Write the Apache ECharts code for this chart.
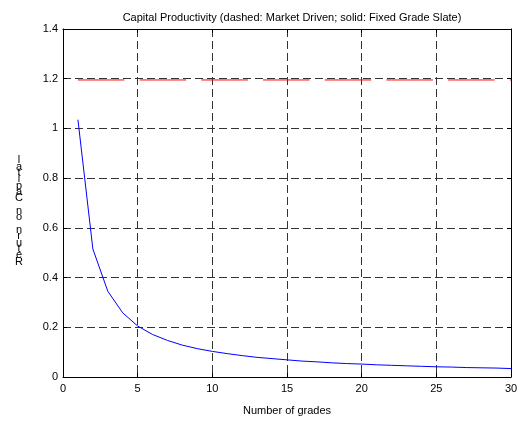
<!DOCTYPE html>
<html>
<head>
<meta charset="utf-8">
<script src="https://cdn.jsdelivr.net/npm/echarts@6/dist/echarts.min.js"></script>
<style>html,body{margin:0;padding:0;background:#fff}#c{width:522px;height:421px}</style>
</head>
<body>
<div id="c"></div>
<script>
var titleText = 'Capital Productivity (dashed: Market Driven; solid: Fixed Grade Slate)';
var xLabel = 'Number of grades';
var yLabel = 'Return on Capital';
var grades = [1,2,3,4,5,6,7,8,9,10,11,12,13,14,15,16,17,18,19,20,21,22,23,24,25,26,27,28,29,30];
var fixedSlate = [1.035,0.515,0.345,0.258,0.205,0.171,0.147,0.128,0.114,0.103,0.094,0.086,0.079,0.074,0.069,0.064,0.061,0.057,0.054,0.052,0.049,0.047,0.045,0.043,0.041,0.040,0.038,0.037,0.036,0.034];
var marketDriven = [1.195,1.195,1.195,1.195,1.195,1.195,1.195,1.195,1.195,1.195,1.195,1.195,1.195,1.195,1.195,1.195,1.195,1.195,1.195,1.195,1.195,1.195,1.195,1.195,1.195,1.195,1.195,1.195,1.195,1.195];

var font = 'Liberation Sans, Arial, sans-serif';
var chart = echarts.init(document.getElementById('c'));
function pairs(xs, ys){ return xs.map(function(x,i){ return [x, ys[i]]; }); }
var gridDash = {show:true, lineStyle:{color:'#333', width:1, type:[8,4]}};
chart.setOption({
  animation:false,
  backgroundColor:'#fff',
  title:{text:titleText, left:287, top:7, textAlign:'center',
    textStyle:{fontFamily:font, fontSize:11, fontWeight:'normal', color:'#000'}},
  grid:{left:63, right:11, top:29, bottom:40, show:false},
  graphic:[{
    type:'text', x:19, y:211,
    style:{text:yLabel.split('').reverse().join('\n'), fontFamily:font, fontSize:11, fill:'#000',
      lineHeight:6.35, align:'center', verticalAlign:'middle'}
  }],
  xAxis:[{
    type:'value', min:0, max:30, interval:5,
    name:xLabel, nameLocation:'middle', nameGap:28,
    nameTextStyle:{fontFamily:font, fontSize:11, color:'#000'},
    axisLine:{show:true, onZero:false, lineStyle:{color:'#000', width:1}},
    axisTick:{show:true, inside:true, length:4, lineStyle:{color:'#000'}},
    axisLabel:{fontFamily:font, fontSize:11, color:'#000', margin:6},
    splitLine:gridDash
  },{
    type:'value', min:0, max:30, interval:5, position:'top',
    axisLine:{show:true, onZero:false, lineStyle:{color:'#000', width:1}},
    axisTick:{show:true, inside:true, length:4, lineStyle:{color:'#000'}},
    axisLabel:{show:false}, splitLine:{show:false}
  }],
  yAxis:[{
    type:'value', min:0, max:1.4, interval:0.2,
    axisLine:{show:true, onZero:false, lineStyle:{color:'#000', width:1}},
    axisTick:{show:true, inside:true, length:4, lineStyle:{color:'#000'}},
    axisLabel:{fontFamily:font, fontSize:11, color:'#000', margin:5},
    splitLine:gridDash
  },{
    type:'value', min:0, max:1.4, interval:0.2, position:'right',
    axisLine:{show:true, onZero:false, lineStyle:{color:'#000', width:1}},
    axisTick:{show:true, inside:true, length:4, lineStyle:{color:'#000'}},
    axisLabel:{show:false}, splitLine:{show:false}
  }],
  series:[{
    name:'Market Driven', type:'line', data:pairs(grades, marketDriven),
    showSymbol:false, symbol:'none',
    lineStyle:{color:'#ff0000', width:1, type:[46.5,15.2]}
  },{
    name:'Fixed Grade Slate', type:'line', data:pairs(grades, fixedSlate),
    showSymbol:false, symbol:'none',
    lineStyle:{color:'#0000ff', width:1}
  }]
});
</script>
</body>
</html>
